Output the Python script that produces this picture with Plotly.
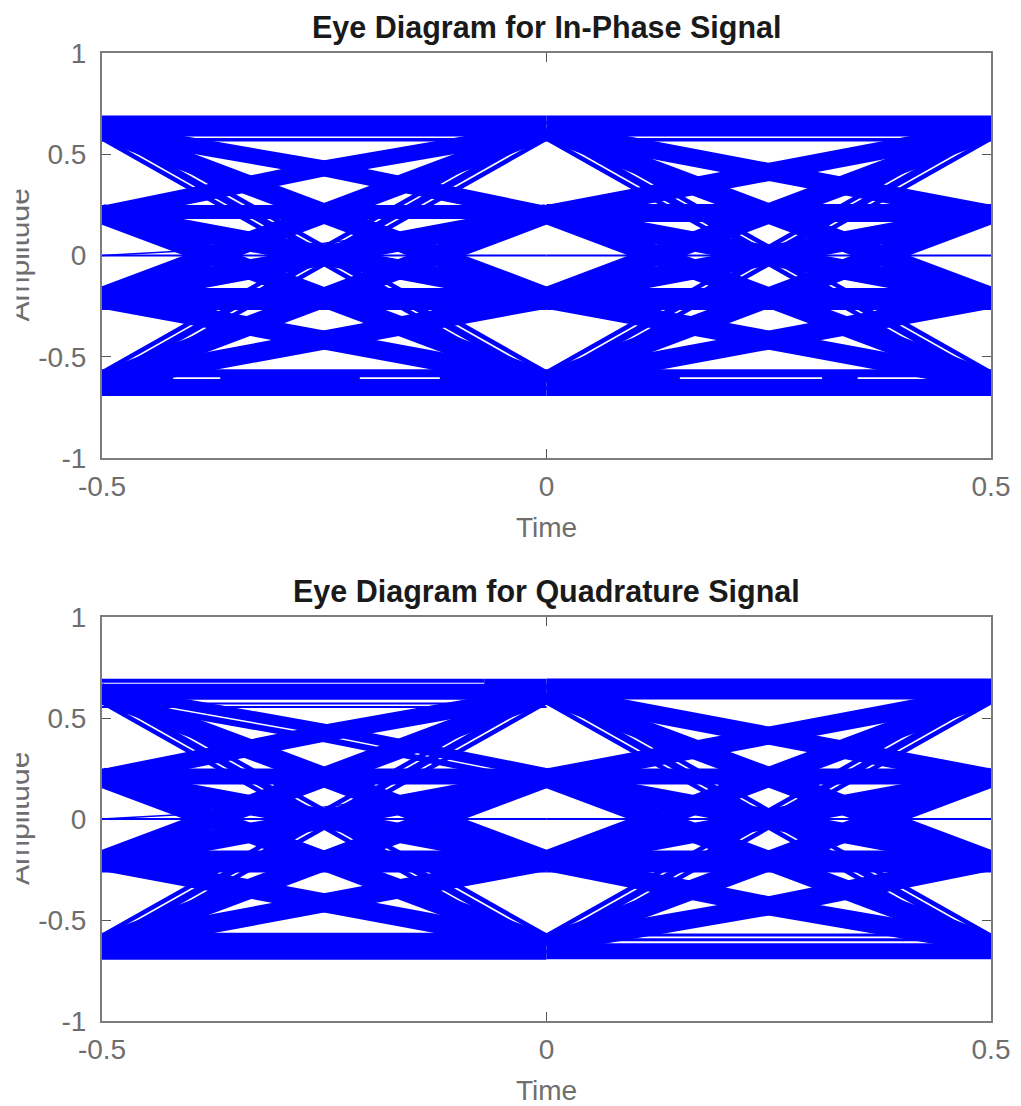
import plotly.graph_objects as go

TITLES = ["Eye Diagram for In-Phase Signal", "Eye Diagram for Quadrature Signal"]
X_TITLE = "Time"
Y_TITLE = "Amplitude"
X_TICKS = [-0.5, 0, 0.5]
X_LABELS = ["-0.5", "0", "0.5"]
Y_TICKS = [-1, -0.5, 0, 0.5, 1]
Y_LABELS = ["-1", "-0.5", "0", "0.5", "1"]
TIME_LEFT = [-0.5, -0.25, 0]
TIME_RIGHT = [0, 0.25, 0.5]
TIME_FULL = [-0.5, 0, 0.5]

# One row per symbol transition: amplitude at start, middle and end of the half window.
TOP_LEFT = [
    [0.64, 0.64, 0.64], [0.62, 0.43, 0.205], [0.205, 0.43, 0.62], [0.62, 0.215, -0.205],
    [-0.205, 0.215, 0.62], [0.62, 0.0, -0.62], [-0.62, 0.0, 0.62], [0.215, 0.215, 0.215],
    [0.205, 0.0, -0.205], [-0.205, 0.0, 0.205], [0.205, -0.215, -0.62], [-0.62, -0.215, 0.205],
    [-0.215, -0.215, -0.215], [-0.215, -0.423, -0.62], [-0.62, -0.423, -0.215],
    [-0.652, -0.652, -0.652], [0.0, 0.0, 0.0],
    [0.578, -0.042, -0.662], [0.662, 0.042, -0.578], [-0.578, 0.042, 0.662], [-0.662, -0.042, 0.578],
]
TOP_RIGHT = [
    [0.64, 0.64, 0.64], [0.205, 0.417, 0.62], [0.62, 0.417, 0.205], [-0.205, 0.21, 0.62],
    [0.62, 0.21, -0.205], [-0.62, 0.0, 0.62], [0.62, 0.0, -0.62], [0.21, 0.21, 0.21],
    [-0.205, 0.0, 0.205], [0.205, 0.0, -0.205], [-0.62, -0.207, 0.205], [0.205, -0.207, -0.62],
    [-0.215, -0.207, -0.215], [-0.62, -0.423, -0.215], [-0.215, -0.423, -0.62],
    [-0.652, -0.652, -0.652], [0.0, 0.0, 0.0],
    [0.578, -0.042, -0.662], [0.662, 0.042, -0.578], [-0.578, 0.042, 0.662], [-0.662, -0.042, 0.578],
]
BOTTOM_LEFT = [
    [0.63, 0.63, 0.63], [0.64, 0.445, 0.225], [0.205, 0.425, 0.62], [0.62, 0.205, -0.205],
    [-0.205, 0.205, 0.62], [0.62, 0.0, -0.62], [-0.62, 0.0, 0.62], [0.21, 0.21, 0.21],
    [0.205, 0.0, -0.205], [-0.205, 0.0, 0.205], [0.205, -0.21, -0.62], [-0.62, -0.21, 0.205],
    [-0.21, -0.21, -0.21], [-0.21, -0.418, -0.62], [-0.62, -0.418, -0.21],
    [-0.63, -0.63, -0.63], [0.0, 0.0, 0.0],
    [0.578, -0.042, -0.662], [0.662, 0.042, -0.578], [-0.578, 0.042, 0.662], [-0.662, -0.042, 0.578],
    [0.59, 0.395, 0.175],
]
BOTTOM_RIGHT = [
    [0.643, 0.643, 0.643], [0.205, 0.41, 0.62], [0.62, 0.41, 0.205], [-0.205, 0.205, 0.62],
    [0.62, 0.205, -0.205], [-0.62, 0.0, 0.62], [0.62, 0.0, -0.62], [0.21, 0.21, 0.21],
    [-0.205, 0.0, 0.205], [0.205, 0.0, -0.205], [-0.62, -0.21, 0.205], [0.205, -0.21, -0.62],
    [-0.21, -0.21, -0.21], [-0.62, -0.43, -0.21], [-0.21, -0.43, -0.62],
    [-0.655, -0.655, -0.655], [0.0, 0.0, 0.0],
    [0.578, -0.042, -0.662], [0.662, 0.042, -0.578], [-0.578, 0.042, 0.662], [-0.662, -0.042, 0.578],
]
TOP_LEFT_W = [21, 16, 16, 20, 20, 7, 7, 14, 20, 20, 20, 20, 22, 19, 19, 17, 2, 4.5, 4.5, 4.5, 4.5]
TOP_RIGHT_W = [21, 18, 18, 20, 20, 7, 7, 18, 20, 20, 20, 20, 22, 19, 19, 17, 2, 4.5, 4.5, 4.5, 4.5]
BOTTOM_LEFT_W = [16, 11, 17, 20, 20, 7, 7, 16, 20, 20, 20, 20, 22, 19, 19, 27, 2, 4.5, 4.5, 4.5, 4.5, 6]
BOTTOM_RIGHT_W = [21, 18, 18, 20, 20, 7, 7, 16, 20, 20, 20, 20, 22, 19, 19, 16, 2, 4.5, 4.5, 4.5, 4.5]

# Fine lines that stand apart inside the outer bands.
TOP_FINE_TIMES = [TIME_FULL, TIME_FULL,
                  [-0.5, -0.42, None, -0.367, -0.21, None, -0.12, 0.15, None, 0.31, 0.35, None, 0.46, 0.5],
                  TIME_LEFT]
TOP_FINE_VALUES = [[0.572, 0.572, 0.572], [-0.582, -0.582, -0.582],
                   [-0.605, -0.605, None, -0.605, -0.605, None, -0.605, -0.605, None, -0.605, -0.605, None, -0.605, -0.605],
                   [0.0, 0.06, 0.2]]
TOP_FINE_W = [3.5, 8, 3.5, 1.5]
BOTTOM_FINE_TIMES = [[-0.5, -0.07], TIME_RIGHT, TIME_LEFT, TIME_LEFT, TIME_RIGHT, TIME_RIGHT, TIME_LEFT]
BOTTOM_FINE_VALUES = [[0.685, 0.685], [0.643, 0.643, 0.643], [0.572, 0.572, 0.572], [0.555, 0.555, 0.555],
                      [-0.574, -0.574, -0.574], [-0.598, -0.598, -0.598], [0.0, 0.06, 0.2]]
BOTTOM_FINE_W = [4, 2, 2, 2, 3, 3, 1.5]
BOTTOM_JOIN_TIMES = [-0.07, 0]
BOTTOM_JOIN_VALUES = [0.665, 0.665]
BOTTOM_JOIN_W = 12

BLUE = "#0000ff"
GRAY = "#7c7c7c"
W, H = 1021, 1106
L, R, T, B = 102, 991, 53, 1021
PANELS = [(53, 458), (617, 1021)]

fig = go.Figure()


def add_rows(times, rows, widths, axis_x, axis_y):
    for row, stroke in zip(rows, widths):
        fig.add_trace(go.Scatter(x=times, y=row, mode="lines", xaxis=axis_x, yaxis=axis_y,
                                 line=dict(color=BLUE, width=stroke), showlegend=False,
                                 hoverinfo="skip"))


def add_fine(times, rows, widths, axis_x, axis_y):
    for t, row, stroke in zip(times, rows, widths):
        fig.add_trace(go.Scatter(x=t, y=row, mode="lines", xaxis=axis_x, yaxis=axis_y,
                                 line=dict(color=BLUE, width=stroke), showlegend=False,
                                 hoverinfo="skip"))


add_rows(TIME_LEFT, TOP_LEFT, TOP_LEFT_W, "x", "y")
add_rows(TIME_RIGHT, TOP_RIGHT, TOP_RIGHT_W, "x", "y")
add_fine(TOP_FINE_TIMES, TOP_FINE_VALUES, TOP_FINE_W, "x", "y")
add_rows(TIME_LEFT, BOTTOM_LEFT, BOTTOM_LEFT_W, "x2", "y2")
add_rows(TIME_RIGHT, BOTTOM_RIGHT, BOTTOM_RIGHT_W, "x2", "y2")
add_fine(BOTTOM_FINE_TIMES, BOTTOM_FINE_VALUES, BOTTOM_FINE_W, "x2", "y2")
add_fine([BOTTOM_JOIN_TIMES], [BOTTOM_JOIN_VALUES], [BOTTOM_JOIN_W], "x2", "y2")


def x_axis(domain_anchor):
    return dict(domain=[0, 1], anchor=domain_anchor, range=[-0.5, 0.5], tickmode="array",
                tickvals=X_TICKS, ticktext=X_LABELS, ticks="inside", ticklen=9, tickwidth=1,
                tickcolor="#555555", showline=True, linecolor=GRAY, linewidth=2, mirror="ticks",
                showgrid=False, zeroline=False, layer="below traces", ticklabelstandoff=2,
                tickfont=dict(family="Liberation Sans", size=28, color="#6e6e6e"),
                title=dict(text=X_TITLE, standoff=17,
                           font=dict(family="Liberation Sans", size=28, color="#6e6e6e")))


def y_axis(domain, anchor):
    return dict(domain=domain, anchor=anchor, range=[-1, 1], tickmode="array",
                tickvals=Y_TICKS, ticktext=Y_LABELS, ticks="inside", ticklen=9, tickwidth=1,
                tickcolor="#555555", showline=True, linecolor=GRAY, linewidth=2, mirror="ticks",
                showgrid=False, zeroline=False, layer="below traces", ticklabelstandoff=8,
                tickfont=dict(family="Liberation Sans", size=28, color="#6e6e6e"))


plot_h = B - T
plot_w = R - L
dom1 = [(B - PANELS[0][1]) / plot_h, (B - PANELS[0][0]) / plot_h]
dom2 = [(B - PANELS[1][1]) / plot_h, (B - PANELS[1][0]) / plot_h]

annotations = []
for (top, bottom), title in zip(PANELS, TITLES):
    annotations.append(dict(text="<b>%s</b>" % title, xref="paper", yref="paper", x=0.5,
                            y=(B - (top - 6)) / plot_h, xanchor="center", yanchor="bottom",
                            showarrow=False,
                            font=dict(family="Liberation Sans", size=30.5, color="#1a1a1a")))
    mid = (top + bottom) / 2
    annotations.append(dict(text=Y_TITLE, textangle=-90, xref="paper", yref="paper",
                            x=(18 - L) / plot_w, y=(B - mid) / plot_h, xanchor="center",
                            yanchor="middle", showarrow=False,
                            font=dict(family="Liberation Sans", size=30, color="#6e6e6e")))
    # The reference cuts the tops of the rotated axis label off.
    annotations.append(dict(text=" ", xref="paper", yref="paper", x=(0 - L) / plot_w,
                            y=(B - mid) / plot_h, xanchor="left", yanchor="middle", width=15,
                            height=220, bgcolor="#ffffff", borderpad=0, showarrow=False))

fig.update_layout(width=W, height=H, margin=dict(l=L, r=W - R, t=T, b=H - B, pad=0, autoexpand=False),
                  paper_bgcolor="#ffffff", plot_bgcolor="#ffffff", showlegend=False,
                  xaxis=x_axis("y"), yaxis=y_axis(dom1, "x"),
                  xaxis2=x_axis("y2"), yaxis2=y_axis(dom2, "x2"),
                  annotations=annotations)

fig.write_html("out.html", config={"displayModeBar": False},
               post_script="document.body.style.margin='0';")
